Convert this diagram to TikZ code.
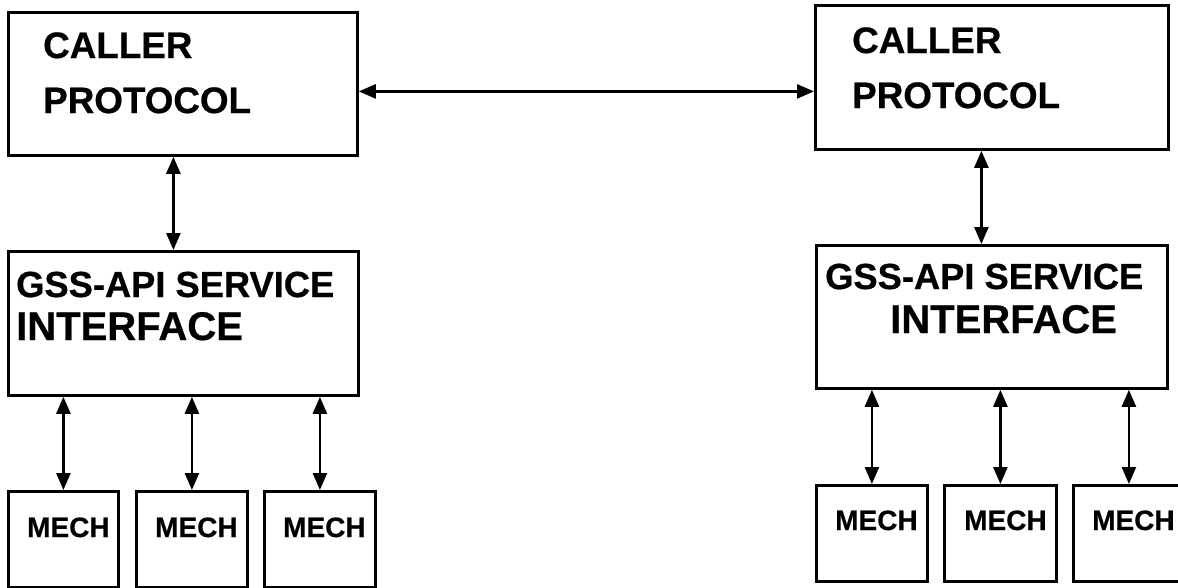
\documentclass[tikz,border=0pt]{standalone}
\usepackage{fontspec}
\setmainfont{Liberation Sans}[BoldFeatures={FakeBold=0.6}]
\usetikzlibrary{arrows.meta}
\tikzset{
  box/.style={draw, line width=2.8pt, inner sep=0pt, anchor=north west},
  lbl/.style={inner sep=0pt, anchor=base west, font=\bfseries\fontsize{36.8}{40}\selectfont},
  glbl/.style={inner sep=0pt, anchor=base west, font=\bfseries\fontsize{36.3}{40}\selectfont},
  blbl/.style={inner sep=0pt, anchor=base west, font=\bfseries\fontsize{40}{44}\selectfont},
  mlbl/.style={inner sep=0pt, anchor=base west, font=\bfseries\fontsize{28}{32}\selectfont},
  arr/.style={line width=2.5pt, {Triangle[length=17pt,width=14pt]}-{Triangle[length=17pt,width=14pt]}},
}
\begin{document}
\begin{tikzpicture}[x=1pt,y=-1pt]
\useasboundingbox (0,0) rectangle (1178,587);
% upper boxes
\node[box, minimum width=349pt, minimum height=143pt] (lc) at (7,11) {};
\node[box, minimum width=353pt, minimum height=144pt] (rc) at (814,4) {};
\node[box, minimum width=350pt, minimum height=144pt] (lg) at (7,250) {};
\node[box, minimum width=351pt, minimum height=143pt] (rg) at (815,244) {};
% mech boxes
\node[box, minimum width=110pt, minimum height=96pt] (lm1) at (7,490) {};
\node[box, minimum width=111pt, minimum height=96pt] (lm2) at (135,490) {};
\node[box, minimum width=111pt, minimum height=96pt] (lm3) at (263,490) {};
\node[box, minimum width=111pt, minimum height=96pt] (rm1) at (815,484) {};
\node[box, minimum width=112pt, minimum height=96pt] (rm2) at (943,484) {};
\node[box, minimum width=111pt, minimum height=96pt] (rm3) at (1072,484) {};
% texts
\node[lbl] (t1) at (43,58) {CALLER};
\node[lbl] (t2) at (43,113) {PROTOCOL};
\node[lbl] (t3) at (852,53) {CALLER};
\node[lbl] (t4) at (852,108) {PROTOCOL};
\node[glbl] (t5) at (16,297) {GSS-API SERVICE};
\node[blbl] (t6) at (16,340) {INTERFACE};
\node[glbl] (t7) at (825,289) {GSS-API SERVICE};
\node[blbl] (t8) at (890,333) {INTERFACE};
\node[mlbl] (m1) at (27,537) {MECH};
\node[mlbl] (m2) at (155,537) {MECH};
\node[mlbl] (m3) at (283,537) {MECH};
\node[mlbl] (m4) at (835,530) {MECH};
\node[mlbl] (m5) at (964,530) {MECH};
\node[mlbl] (m6) at (1092,530) {MECH};
% connectors
\coordinate (h1) at ([yshift=-7.5pt]lc.east);
\draw[arr] (h1) -- (h1 -| rc.west);
\coordinate (v1) at ([xshift=-9.5pt]lc.south);
\draw[arr] (v1) -- (v1 |- lg.north);
\coordinate (v2) at ([xshift=-10.5pt]rc.south);
\draw[arr] (v2) -- (v2 |- rg.north);
\foreach \m in {lm1,lm2,lm3} \draw[arr] (\m.north) -- (\m.north |- lg.south);
\foreach \m in {rm1,rm2,rm3} \draw[arr] (\m.north) -- (\m.north |- rg.south);
\end{tikzpicture}
\end{document}
